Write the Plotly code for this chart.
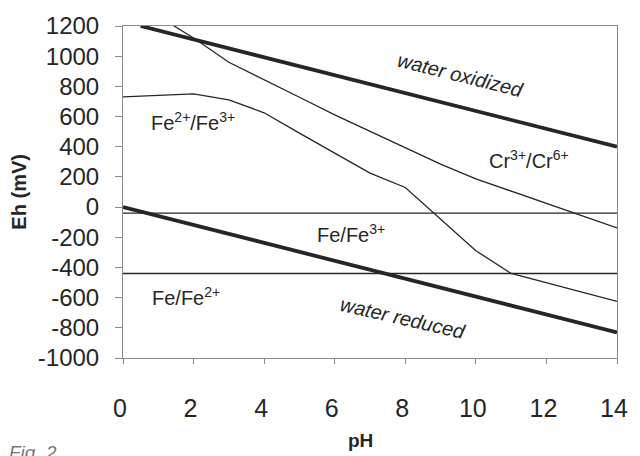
import plotly.graph_objects as go

# ---- data ----
ph_water_ox = [0.5, 14]
eh_water_ox = [1200, 400]

ph_water_red = [0, 14]
eh_water_red = [0, -830]

ph_fe_fe3 = [0, 14]
eh_fe_fe3 = [-40, -40]

ph_fe_fe2 = [0, 14]
eh_fe_fe2 = [-440, -440]

ph_fe23 = [0, 2, 3, 4, 5, 6, 7, 8, 9, 10, 11, 12, 13, 14]
eh_fe23 = [730, 750, 710, 625, 490, 358, 225, 130, -80, -289, -440, -500, -562, -625]

ph_cr = [1, 2, 3, 4, 5, 6, 7, 8, 9, 10, 11, 12, 13, 14]
eh_cr = [1265, 1120, 960, 846, 728, 611, 503, 395, 285, 187, 106, 24, -58, -138]

x_ticks = [0, 2, 4, 6, 8, 10, 12, 14]
x_tick_text = ["0", "2", "4", "6", "8", "10", "12", "14"]
y_ticks = [1200, 1000, 800, 600, 400, 200, 0, -200, -400, -600, -800, -1000]
y_tick_text = ["1200", "1000", "800", "600", "400", "200", "0",
               "-200", "-400", "-600", "-800", "-1000"]

labels = [
    # text, pH, Eh, angle, italic
    ("water oxidized", 9.56, 875, 14, True),
    ("water reduced", 7.94, -735, 13, True),
    ("Fe<sup>2+</sup>/Fe<sup>3+</sup>", 1.97, 570, 0, False),
    ("Cr<sup>3+</sup>/Cr<sup>6+</sup>", 11.5, 318, 0, False),
    ("Fe/Fe<sup>3+</sup>", 6.47, -175, 0, False),
    ("Fe/Fe<sup>2+</sup>", 1.78, -595, 0, False),
]

FONT = "Liberation Sans, Arial, sans-serif"
INK = "#262626"

fig = go.Figure()
thin = dict(color=INK, width=1.3)
thick = dict(color=INK, width=3.8)
for xs, ys, ln in [
    (ph_fe_fe3, eh_fe_fe3, thin),
    (ph_fe_fe2, eh_fe_fe2, thin),
    (ph_fe23, eh_fe23, thin),
    (ph_cr, eh_cr, thin),
    (ph_water_ox, eh_water_ox, thick),
    (ph_water_red, eh_water_red, thick),
]:
    fig.add_trace(go.Scatter(x=xs, y=ys, mode="lines", line=ln,
                             hoverinfo="skip", showlegend=False))

for text, xv, yv, ang, it in labels:
    fig.add_annotation(x=xv, y=yv, text=text, showarrow=False, textangle=ang,
                       font=dict(family=FONT, size=20, color=INK,
                                 style="italic" if it else "normal"))

# axis titles and caption
fig.add_annotation(xref="paper", yref="paper", x=(365 - 123) / 504, y=(358 - 442) / 339,
                   xanchor="center", yanchor="middle",
                   text="<b>pH</b>", showarrow=False,
                   font=dict(family=FONT, size=19, color=INK))
fig.add_annotation(xref="paper", yref="paper", x=(16 - 123) / 504, y=(358 - 188) / 339,
                   xanchor="center", yanchor="middle",
                   text="<b>Eh (mV)</b>", showarrow=False, textangle=-90,
                   font=dict(family=FONT, size=20, color=INK))
fig.add_annotation(xref="paper", yref="paper", x=(5 - 123) / 504, y=(358 - 442) / 339,
                   xanchor="left", yanchor="top",
                   text="Fig. 2", showarrow=False,
                   font=dict(family=FONT, size=19, color="#777777", style="italic"))

axis_common = dict(showgrid=False, zeroline=False, showline=True, linecolor="#8a8a8a",
                   linewidth=1, mirror=True, ticks="outside", tickcolor="#8a8a8a",
                   tickmode="array", ticklabeloverflow="allow")
fig.update_xaxes(range=[0, 14], tickvals=x_ticks, ticktext=x_tick_text, ticklen=5,
                 ticklabelstandoff=23, ticklabelshift=-3,
                 tickfont=dict(family=FONT, size=25, color=INK),
                 **axis_common)
fig.update_yaxes(range=[-1000, 1200], tickvals=y_ticks, ticktext=y_tick_text, ticklen=7,
                 ticklabelstandoff=11, tickfont=dict(family=FONT, size=24, color=INK),
                 **axis_common)

fig.update_layout(width=640, height=456, margin=dict(l=123, r=13, t=19, b=98),
                  plot_bgcolor="white", paper_bgcolor="white")

pin = ("document.documentElement.style.margin='0';"
       "document.body.style.margin='0';document.body.style.overflow='hidden';"
       "var gd=document.getElementById('{plot_id}');"
       "gd.style.position='fixed';gd.style.top='0px';gd.style.left='0px';")
fig.write_html("out.html", config={"displayModeBar": False}, post_script=pin)
